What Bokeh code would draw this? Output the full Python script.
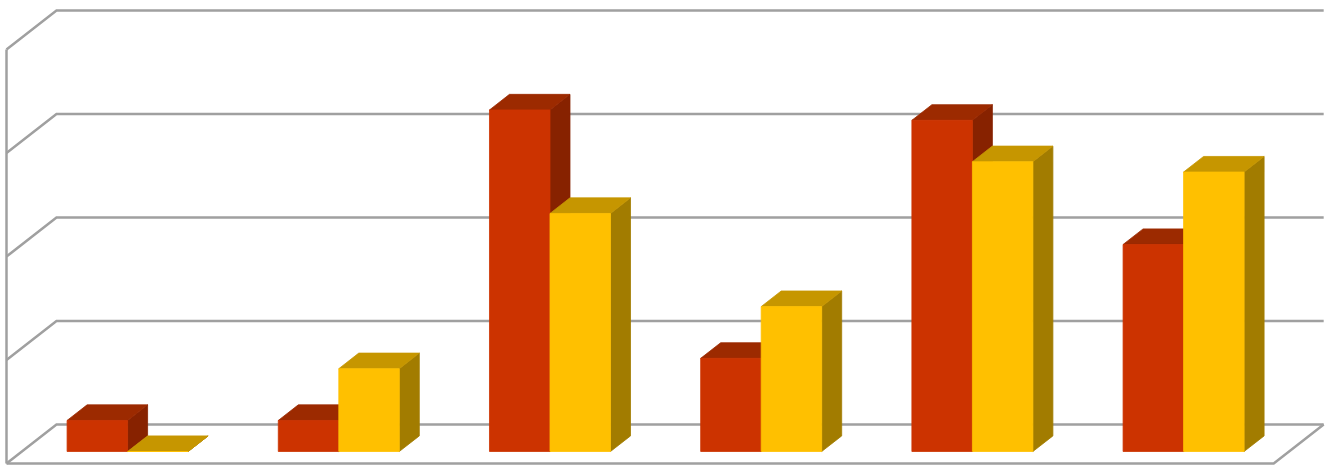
from bokeh.plotting import figure
from bokeh.models import Range1d
from bokeh.embed import file_html
from bokeh.resources import INLINE

# ---- data ----
categories = ["1", "2", "3", "4", "5", "6"]
series_red = [3, 3, 33, 9, 32, 20]
series_yellow = [0, 8, 23, 14, 28, 27]
grid_values = [0, 10, 20, 30, 40]

# ---- style / geometry ----
RED = ("#CC3300", "#9C2A00", "#872200")      # front, top, side
YEL = ("#FFC000", "#C69600", "#A27C00")
GRID = "#A0A0A0"
BAR_W = 0.2865
DEPTH_X, DEPTH_Y = 0.2367, 3.768            # full depth vector in data units
BAR_D = 0.40                                # bar depth fraction
FRONT_T, BACK_T = -0.31, 0.69                # floor front/back depth relative to bar plane

p = figure(width=1333, height=470, output_backend="svg", toolbar_location=None,
           x_range=Range1d(-0.1018, 6.2098), y_range=Range1d(-1.836, 43.575),
           x_axis_location=None, y_axis_location=None, min_border=0)
p.grid.visible = False
p.outline_line_color = None
p.background_fill_color = "white"

n = len(categories)
fx, fy = FRONT_T * DEPTH_X, FRONT_T * DEPTH_Y
bx, by = BACK_T * DEPTH_X, BACK_T * DEPTH_Y

# walls / gridlines
xs_l, ys_l = [], []
for g in grid_values:
    xs_l.append([0 + fx, 0 + bx, n + bx])
    ys_l.append([g + fy, g + by, g + by])
xs_l.append([0 + fx, 0 + fx]); ys_l.append([0 + fy, grid_values[-1] + fy])
xs_l.append([0 + fx, n + fx, n + bx]); ys_l.append([0 + fy, 0 + fy, 0 + by])
p.multi_line(xs_l, ys_l, line_color=GRID, line_width=2.5, line_join="miter")

# bars
dx, dy = BAR_D * DEPTH_X, BAR_D * DEPTH_Y
for i in range(n):
    for si, (vals, cols) in enumerate([(series_red, RED), (series_yellow, YEL)]):
        v = vals[i]
        x0 = i + 0.5 - BAR_W + si * BAR_W
        x1 = x0 + BAR_W
        side_x = [x1, x1 + dx, x1 + dx, x1]
        side_y = [0, dy, v + dy, v]
        top_x = [x0, x1, x1 + dx, x0 + dx]
        top_y = [v, v, v + dy, v + dy]
        front_x = [x0, x1, x1, x0]
        front_y = [0, 0, v, v]
        p.patches([side_x, top_x, front_x], [side_y, top_y, front_y],
                  fill_color=[cols[2], cols[1], cols[0]],
                  line_color=[cols[2], cols[1], cols[0]], line_width=0.8)

open("out.html", "w").write(file_html(p, INLINE))
